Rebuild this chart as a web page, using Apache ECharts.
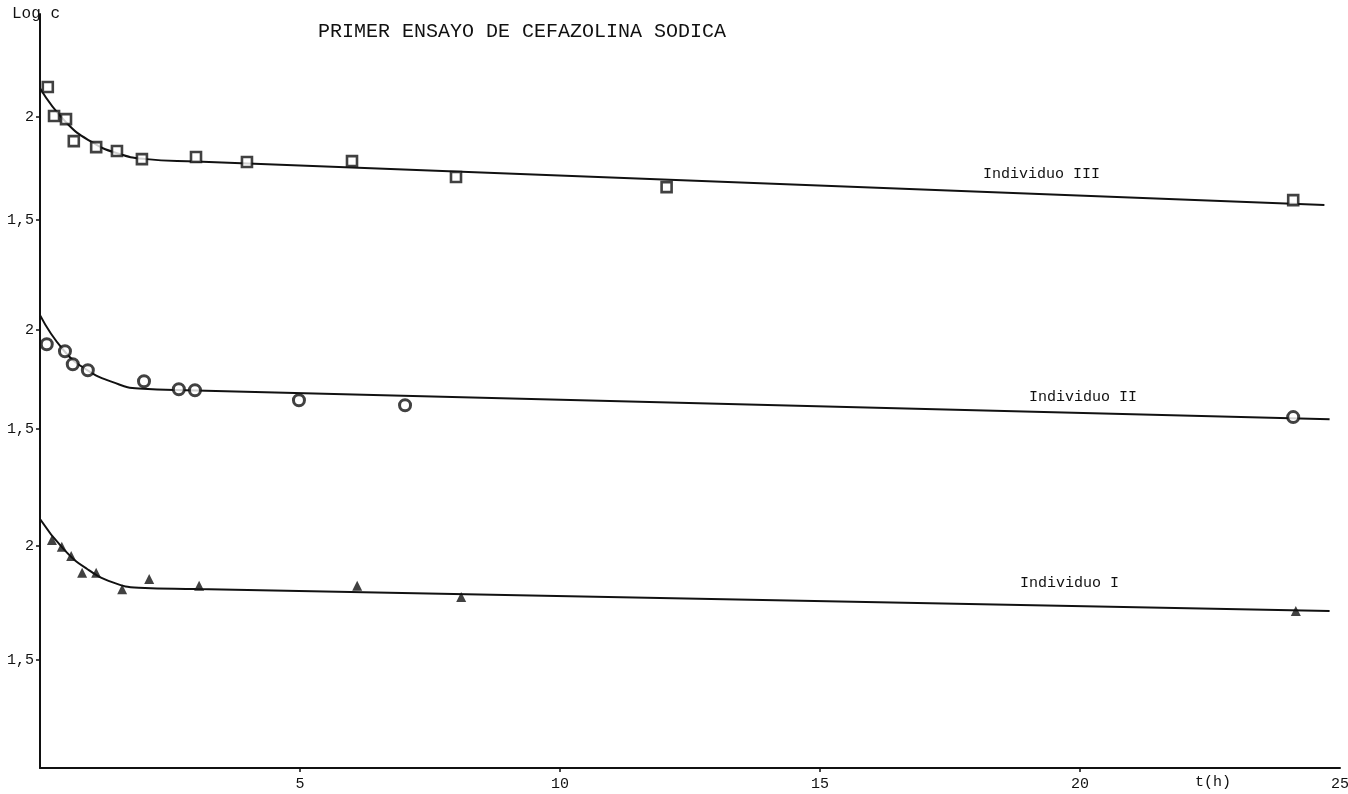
<!DOCTYPE html>
<html>
<head>
<meta charset="utf-8">
<script src="https://cdn.jsdelivr.net/npm/echarts@6/dist/echarts.min.js"></script>
<style>
html,body{margin:0;padding:0;background:#fff;}
#chart{width:1348px;height:794px;}
</style>
</head>
<body>
<div id="chart"></div>
<script>
// ---- data ----
var titleText = 'PRIMER ENSAYO DE CEFAZOLINA SODICA';
var xTicks = [5, 10, 15, 20, 25];
var yTickValues = [1.5, 2];
var panelNames = ['Individuo III', 'Individuo II', 'Individuo I'];

// Individuo III (squares)
var pointsIII = [[0.15,2.146],[0.27,2.005],[0.5,1.99],[0.65,1.883],[1.08,1.854],[1.48,1.835],[1.96,1.796],[3.0,1.806],[3.98,1.782],[6.0,1.786],[8.0,1.709],[12.05,1.66],[24.1,1.597]];
var curveIII = [[0,2.14],[0.5,1.975],[1,1.878],[1.5,1.823],[2,1.797],[3,1.784],[24.7,1.573]];

// Individuo II (circles)
var pointsII = [[0.13,1.929],[0.48,1.894],[0.63,1.828],[0.92,1.798],[2.0,1.742],[2.67,1.702],[2.98,1.697],[4.98,1.646],[7.02,1.621],[24.1,1.561]];
var curveII = [[0,2.076],[0.45,1.90],[0.9,1.80],[1.4,1.738],[1.9,1.705],[3,1.696],[24.8,1.55]];

// Individuo I (triangles)
var pointsI = [[0.23,2.026],[0.42,1.996],[0.6,1.956],[0.81,1.882],[1.08,1.882],[1.58,1.81],[2.1,1.855],[3.06,1.825],[6.1,1.825],[8.1,1.776],[24.15,1.715]];
var curveI = [[0,2.118],[0.45,1.987],[0.9,1.90],[1.4,1.84],[1.9,1.817],[3,1.811],[24.8,1.715]];

// ---- chart ----
var FONT = 'Liberation Mono';
var INK = '#111';
var panelRanges = [[1.35, 2.5], [1.4, 2.4], [1.026, 2.425]];
var grids = [
  {left: 40, right: 8, top: 14, height: 237},
  {left: 40, right: 8, top: 251, height: 198},
  {left: 40, right: 8, top: 449, height: 319}
];
grids.forEach(function(g){ g.outerBoundsMode = 'none'; g.containLabel = false; });

var xAxes = [0,1,2].map(function(i){
  return {
    type: 'value', gridIndex: i, min: 0, max: 25, interval: 5,
    show: i === 2,
    axisLine: {show: true, onZero: false, lineStyle: {color: INK, width: 2}},
    axisTick: {show: true, length: 4, inside: false, lineStyle: {color: INK, width: 1.5},
      customValues: xTicks.slice(0,4)},
    axisLabel: {show: true, color: INK, fontFamily: FONT, fontSize: 15, margin: 9,
      customValues: xTicks, showMaxLabel: true},
    splitLine: {show: false}
  };
});

var yAxes = [0,1,2].map(function(i){
  return {
    type: 'value', gridIndex: i, min: panelRanges[i][0], max: panelRanges[i][1],
    axisLine: {show: true, onZero: false, lineStyle: {color: INK, width: 2}},
    axisTick: {show: true, length: 4, inside: false, lineStyle: {color: INK, width: 1.5},
      customValues: yTickValues},
    axisLabel: {show: true, color: INK, fontFamily: FONT, fontSize: 15, margin: 6,
      customValues: yTickValues,
      formatter: function(v){ return String(v).replace('.', ','); }},
    splitLine: {show: false}
  };
});

var curves = [curveIII, curveII, curveI];
var points = [pointsIII, pointsII, pointsI];
var symbols = ['rect', 'circle', 'triangle'];
var symbolSizes = [10, 11, 10];
var symbolStyles = [
  {color: '#fff', borderColor: INK, borderWidth: 2.6},
  {color: '#fff', borderColor: INK, borderWidth: 3},
  {color: INK, borderColor: INK, borderWidth: 0}
];

var series = [];
for (var i = 0; i < 3; i++) {
  series.push({
    name: panelNames[i] + ' ajuste', type: 'line', xAxisIndex: i, yAxisIndex: i,
    data: curves[i], showSymbol: false, smooth: 0.5,
    lineStyle: {color: INK, width: 2}, silent: true, z: 2
  });
  series.push({
    name: panelNames[i], type: 'scatter', xAxisIndex: i, yAxisIndex: i,
    data: points[i], symbol: symbols[i], symbolSize: symbolSizes[i],
    itemStyle: symbolStyles[i], z: 3
  });
}

var chart = echarts.init(document.getElementById('chart'), null, {renderer: 'canvas'});
chart.setOption({
  backgroundColor: '#fff',
  animation: false,
  title: {
    text: titleText, left: 313, top: 17,
    textStyle: {fontFamily: FONT, fontSize: 20, fontWeight: 'normal', color: INK}
  },
  grid: grids,
  xAxis: xAxes,
  yAxis: yAxes,
  series: series,
  graphic: [
    {type: 'text', left: 12, top: 6, style: {text: 'Log c', fontFamily: FONT, fontSize: 16, fill: INK}},
    {type: 'text', left: 1195, top: 775, style: {text: 't(h)', fontFamily: FONT, fontSize: 15, fill: INK}},
    {type: 'text', left: 983, top: 167, style: {text: panelNames[0], fontFamily: FONT, fontSize: 15, fill: INK}},
    {type: 'text', left: 1029, top: 390, style: {text: panelNames[1], fontFamily: FONT, fontSize: 15, fill: INK}},
    {type: 'text', left: 1020, top: 576, style: {text: panelNames[2], fontFamily: FONT, fontSize: 15, fill: INK}}
  ]
});
</script>
</body>
</html>
